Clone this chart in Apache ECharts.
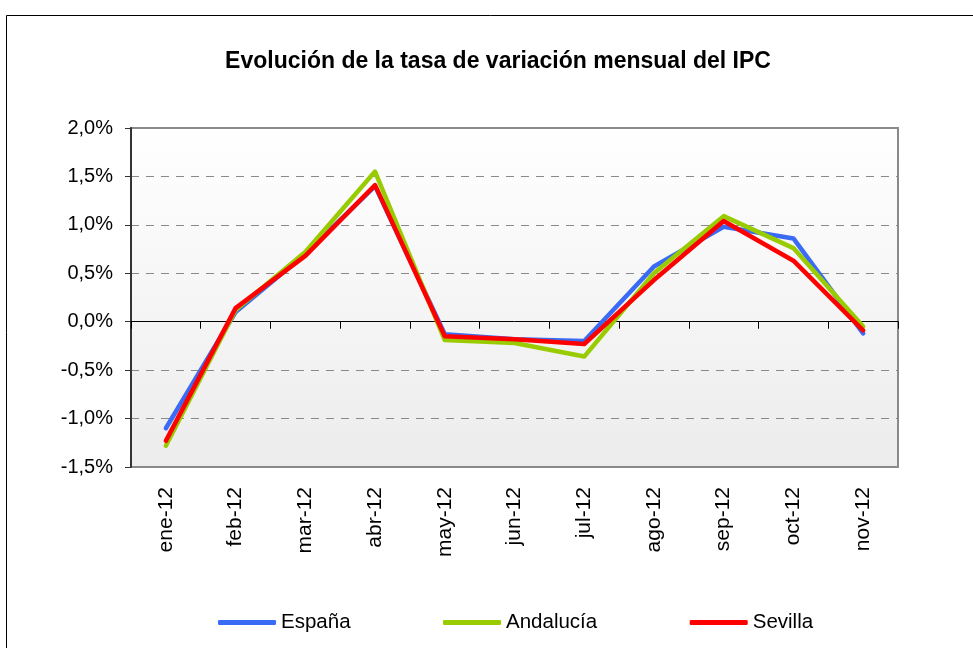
<!DOCTYPE html>
<html>
<head>
<meta charset="utf-8">
<script src="https://cdn.jsdelivr.net/npm/echarts@6/dist/echarts.min.js"></script>
<style>
html,body{margin:0;padding:0;background:#fff;}
#chart{width:973px;height:648px;}
</style>
</head>
<body>
<div id="chart"></div>
<script>
const categories = ['ene-12','feb-12','mar-12','abr-12','may-12','jun-12','jul-12','ago-12','sep-12','oct-12','nov-12'];
const espana    = [-1.10, 0.10, 0.70, 1.40, -0.13, -0.18, -0.20, 0.57, 0.98, 0.86, -0.12];
const andalucia = [-1.28, 0.12, 0.72, 1.55, -0.19, -0.22, -0.36, 0.50, 1.09, 0.76, -0.05];
const sevilla   = [-1.23, 0.14, 0.68, 1.41, -0.15, -0.18, -0.23, 0.43, 1.04, 0.63, -0.09];
const seriesNames = ['España', 'Andalucía', 'Sevilla'];
const yMin = -1.5, yMax = 2.0, yStep = 0.5;

const FONT = '"Liberation Sans", Arial, sans-serif';
const chart = echarts.init(document.getElementById('chart'), null, {renderer: 'canvas'});

function mkSeries(name, data, color) {
  return {
    name: name, type: 'line', data: data, xAxisIndex: 0,
    symbol: 'none', smooth: false,
    lineStyle: {width: 4.5, color: color, cap: 'round', join: 'round'},
    itemStyle: {color: color},
    z: 3
  };
}

chart.setOption({
  animation: false,
  backgroundColor: '#ffffff',
  graphic: [{
    type: 'rect', left: 4, top: 13, z: -10, silent: true,
    shape: {width: 1000, height: 700},
    style: {fill: 'none', stroke: '#000', lineWidth: 1}
  }],
  title: {
    text: 'Evolución de la tasa de variación mensual del IPC',
    left: 493, textAlign: 'center', top: 45,
    textStyle: {fontFamily: FONT, fontSize: 23, fontWeight: 'bold', color: '#000'}
  },
  legend: {
    data: seriesNames,
    left: 213, top: 607,
    icon: 'roundRect',
    itemWidth: 58, itemHeight: 5, itemGap: 92.5,
    textStyle: {fontFamily: FONT, fontSize: 20.5, color: '#000'}
  },
  grid: {
    left: 131, right: 75, top: 128, bottom: 181,
    show: true,
    borderColor: '#8a8a8a', borderWidth: 2,
    backgroundColor: {
      type: 'linear', x: 0, y: 0, x2: 0, y2: 1,
      colorStops: [{offset: 0, color: '#ffffff'}, {offset: 1, color: '#ececec'}]
    }
  },
  xAxis: [{
    type: 'category', data: categories, boundaryGap: true,
    position: 'bottom',
    axisLine: {show: true, onZero: true, lineStyle: {color: '#000', width: 1}},
    axisTick: {show: true, inside: false, length: 7, lineStyle: {color: '#000', width: 1}},
    axisLabel: {show: false},
    splitLine: {show: false},
    z: 2
  }, {
    type: 'category', data: categories, boundaryGap: true,
    position: 'bottom', offset: 0,
    axisLine: {show: false, onZero: false},
    axisTick: {show: false},
    axisLabel: {show: true, rotate: 90, margin: 20, fontFamily: FONT, fontSize: 21, color: '#000'},
    splitLine: {show: false}
  }],
  yAxis: {
    type: 'value', min: yMin, max: yMax, interval: yStep,
    axisLine: {show: true, lineStyle: {color: '#333', width: 2}},
    axisTick: {show: true, inside: false, length: 6, lineStyle: {color: '#333', width: 1}},
    axisLabel: {
      margin: 18, fontFamily: FONT, fontSize: 20, color: '#000',
      formatter: v => v.toFixed(1).replace('.', ',') + '%'
    },
    splitLine: {show: true, lineStyle: {color: '#8a8a8a', width: 1, type: [8, 7]}}
  },
  series: [
    mkSeries(seriesNames[0], espana, '#3a6bf5'),
    mkSeries(seriesNames[1], andalucia, '#99cc00'),
    mkSeries(seriesNames[2], sevilla, '#ff0000')
  ]
});
</script>
</body>
</html>
